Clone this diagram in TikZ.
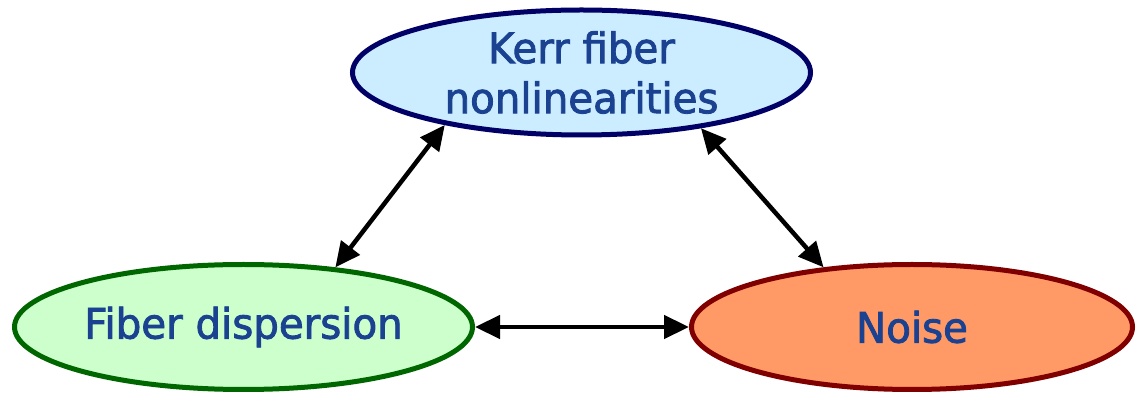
\documentclass[tikz,border=0pt]{standalone}
\usepackage{fontspec}
\setmainfont{DejaVu Sans}[FakeStretch=0.96, FakeBold=2]
\usetikzlibrary{shapes.geometric,arrows.meta}
\definecolor{txtblue}{RGB}{26,66,145}
\definecolor{kerrfill}{RGB}{204,236,255}
\definecolor{kerrline}{RGB}{0,0,102}
\definecolor{dispfill}{RGB}{204,255,204}
\definecolor{displine}{RGB}{0,102,0}
\definecolor{noisefill}{RGB}{255,153,102}
\definecolor{noiseline}{RGB}{128,0,0}
\begin{document}
\begin{tikzpicture}[x=1pt,y=1pt,
	blob/.style={ellipse, line width=5pt, inner sep=0pt, minimum height=125pt, align=center,
		text=txtblue, font=\fontsize{42}{50}\selectfont},
	link/.style={{Triangle[length=25pt,width=23pt]}-{Triangle[length=25pt,width=23pt]}, line width=4.5pt}]
	\useasboundingbox (0,0) rectangle (1140,393);
	\node[blob, draw=kerrline, fill=kerrfill, minimum width=458pt] (kerr) at (581.5,320.5) {Kerr fiber\\nonlinearities};
	\node[blob, draw=displine, fill=dispfill, minimum width=458pt] (disp) at (243.5,66) {Fiber dispersion};
	\node[blob, draw=noiseline, fill=noisefill, minimum width=441pt] (noise) at (912,66) {Noise};
	\draw[link] (kerr.201.9) -- (disp.33.7);
	\draw[link] (kerr.335.6) -- (noise.146.3);
	\draw[link] (disp.east) -- (noise.west);
\end{tikzpicture}
\end{document}
